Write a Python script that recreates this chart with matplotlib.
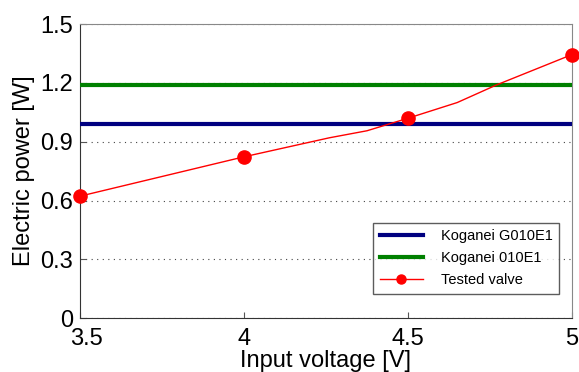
import matplotlib.pyplot as plt
import matplotlib.transforms as mtransforms
import numpy as np

plt.rcParams['font.family'] = ['Liberation Sans', 'DejaVu Sans']

# measured points of the tested valve
volt = [3.5, 4.0, 4.5, 5.0]
power = [0.622, 0.823, 1.02, 1.345]

# the drawn curve (has a few extra vertices)
curve_x = [3.5, 4.0, 4.26, 4.375, 4.5, 4.65, 4.77, 5.0]
curve_y = [0.622, 0.823, 0.92, 0.956, 1.02, 1.10, 1.19, 1.345]

g010e1 = 0.993
e010e1 = 1.19

yticks = [0, 0.3, 0.6, 0.9, 1.2, 1.5]
xticks = [3.5, 4, 4.5, 5]
xticklabels = ['3.5', '4', '4.5', '5']

fig = plt.figure(figsize=(5.79, 3.72), dpi=100)
ax = fig.add_axes([0.138, 0.145, 0.850, 0.790])

ax.plot([3.5, 5], [g010e1, g010e1], color='#000080', lw=3, label='Koganei G010E1', zorder=3)
ax.plot([3.5, 5], [e010e1, e010e1], color='#008000', lw=3, label='Koganei 010E1', zorder=3)
ax.plot(curve_x, curve_y, color='#ff0000', lw=1, zorder=4)
ax.plot(volt, power, 'o', color='#ff0000', ms=9.5, zorder=5, clip_on=False)
ax.plot([], [], '-o', color='#ff0000', lw=1, ms=6.5, label='Tested valve')

ax.set_xlim(3.5, 5)
ax.set_ylim(0, 1.5)
ax.set_xticks(xticks)
ax.set_xticklabels(xticklabels)
ax.set_yticks(yticks)
ax.set_yticklabels(['0', '0.3', '0.6', '0.9', '1.2', '1.5'])
ax.tick_params(direction='in', labelsize=17, length=4, color='#555555')
ax.tick_params(axis='x', pad=7)
ax.tick_params(axis='y', pad=5)
# first x label sits a bit right of its tick, as in the original
lbl = ax.get_xticklabels()[0]
lbl.set_transform(lbl.get_transform() + mtransforms.ScaledTranslation(7 / 100, 0, fig.dpi_scale_trans))

ax.yaxis.grid(True, linestyle=(0, (1, 4)), color='#444444', lw=0.8)
for s in ['top', 'right']:
    ax.spines[s].set_color('#888888')
for s in ['left', 'bottom']:
    ax.spines[s].set_color('#333333')

ax.set_xlabel('Input voltage [V]', fontsize=17, labelpad=0)
ax.set_ylabel('Electric power [W]', fontsize=17, labelpad=4)

handles, labels = ax.get_legend_handles_labels()
leg = ax.legend(handles, labels, loc='lower right', bbox_to_anchor=(0.974, 0.082),
                borderaxespad=0, fontsize=10.5, fancybox=False, edgecolor='#333333',
                handlelength=3.0, borderpad=0.45, labelspacing=0.55, handletextpad=1.2)
leg.get_frame().set_linewidth(1)

fig.savefig('out.png', dpi=100)
